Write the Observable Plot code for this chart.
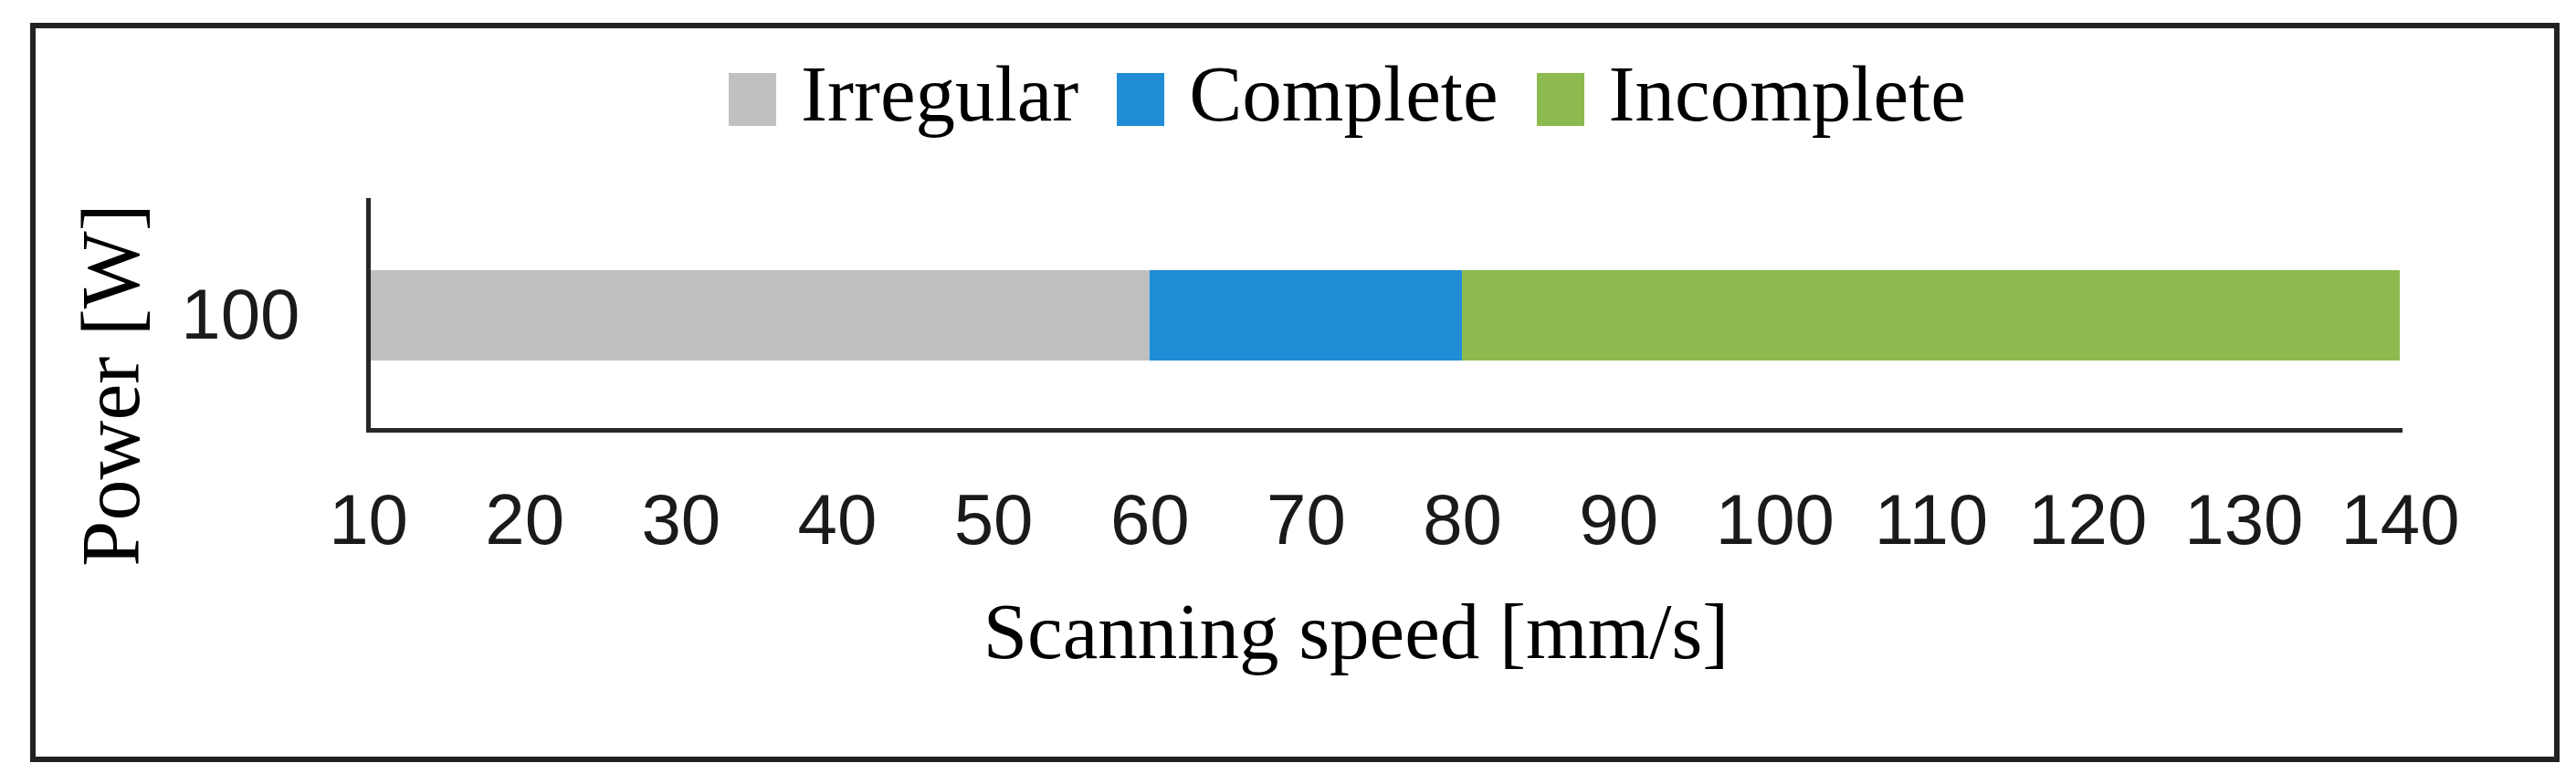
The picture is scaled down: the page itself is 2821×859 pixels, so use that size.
<!DOCTYPE html>
<html>
<head>
<meta charset="utf-8">
<script src="https://cdn.jsdelivr.net/npm/d3@7"></script>
<script src="https://cdn.jsdelivr.net/npm/@observablehq/plot@0.6"></script>
<style>
  html, body { margin: 0; padding: 0; background: #fff; }
  #wrap { position: relative; width: 2821px; height: 859px; overflow: hidden; background: #fff; }
  #border { position: absolute; left: 33px; top: 25px; width: 2770px; height: 810px;
            border: 6px solid #222; box-sizing: border-box; pointer-events: none; }
  #legend { position: relative; height: 200px; box-sizing: border-box; padding-top: 59px; padding-left: 798px;
            display: flex; align-items: flex-start; gap: 42px;
            font-family: "Liberation Serif", "Times New Roman", serif; font-size: 87px; line-height: 87px; color: #000; }
  .item { display: flex; align-items: flex-start; }
  .sw { display: inline-block; width: 52px; height: 58px; margin-top: 21px; margin-right: 27px; }
  #chart svg { display: block; }
</style>
</head>
<body>
<div id="wrap">
  <div id="legend"></div>
  <div id="chart"></div>
  <div id="border"></div>
</div>
<script>
// ---- data ----
const powerLevels = ["100"];
const segmentNames = ["Irregular", "Complete", "Incomplete"];
const segmentStart = [10, 60, 80];
const segmentEnd = [60, 80, 140];
const segmentColors = ["#c0c0c0", "#218dd6", "#8cba4e"];
const xTicks = [10, 20, 30, 40, 50, 60, 70, 80, 90, 100, 110, 120, 130, 140];
const xLabel = "Scanning speed [mm/s]";
const yLabel = "Power [W]";

const rows = segmentNames.map((name, i) => ({
  power: powerLevels[0], name, start: segmentStart[i], end: segmentEnd[i]
}));

// ---- legend (HTML) ----
const legend = document.getElementById("legend");
segmentNames.forEach((name, i) => {
  const item = document.createElement("div");
  item.className = "item";
  const sw = document.createElement("span");
  sw.className = "sw";
  sw.style.background = segmentColors[i];
  const tx = document.createElement("span");
  tx.textContent = name;
  item.appendChild(sw);
  item.appendChild(tx);
  legend.appendChild(item);
});

// ---- chart ----
const serif = "Liberation Serif, Times New Roman, serif";
const chart = Plot.plot({
  width: 2821,
  height: 659,
  marginLeft: 403,
  marginRight: 193,
  marginTop: 19,
  marginBottom: 388,
  style: { fontFamily: "Liberation Sans, Arial, sans-serif", fontSize: "78px", color: "#1a1a1a", background: "transparent" },
  x: { domain: [xTicks[0], xTicks[xTicks.length - 1]] },
  y: { domain: powerLevels, padding: 0.436 },
  color: { domain: segmentNames, range: segmentColors },
  marks: [
    Plot.barX(rows, { x1: "start", x2: "end", y: "power", fill: "name" }),
    Plot.frame({ anchor: "left", stroke: "#262626", strokeWidth: 5 }),
    Plot.frame({ anchor: "bottom", stroke: "#262626", strokeWidth: 5 }),
    Plot.axisX({ ticks: xTicks, tickSize: 0, tickPadding: 69, label: null, fontSize: 78, tickFormat: d => String(d) }),
    Plot.axisY({ tickSize: 0, tickPadding: 75, label: null, fontSize: 78 }),
    Plot.text([xLabel], { frameAnchor: "bottom", text: d => d, dx: -31, dy: 249,
      lineAnchor: "bottom", fontFamily: serif, fontSize: 87, fill: "#000" })
  ]
});

// rotated y-axis title
d3.select(chart).append("text")
  .attr("transform", "translate(152,222) rotate(-90)")
  .attr("text-anchor", "middle")
  .attr("font-family", serif)
  .attr("font-size", 90)
  .attr("fill", "#000")
  .text(yLabel);

document.getElementById("chart").appendChild(chart);
</script>
</body>
</html>
